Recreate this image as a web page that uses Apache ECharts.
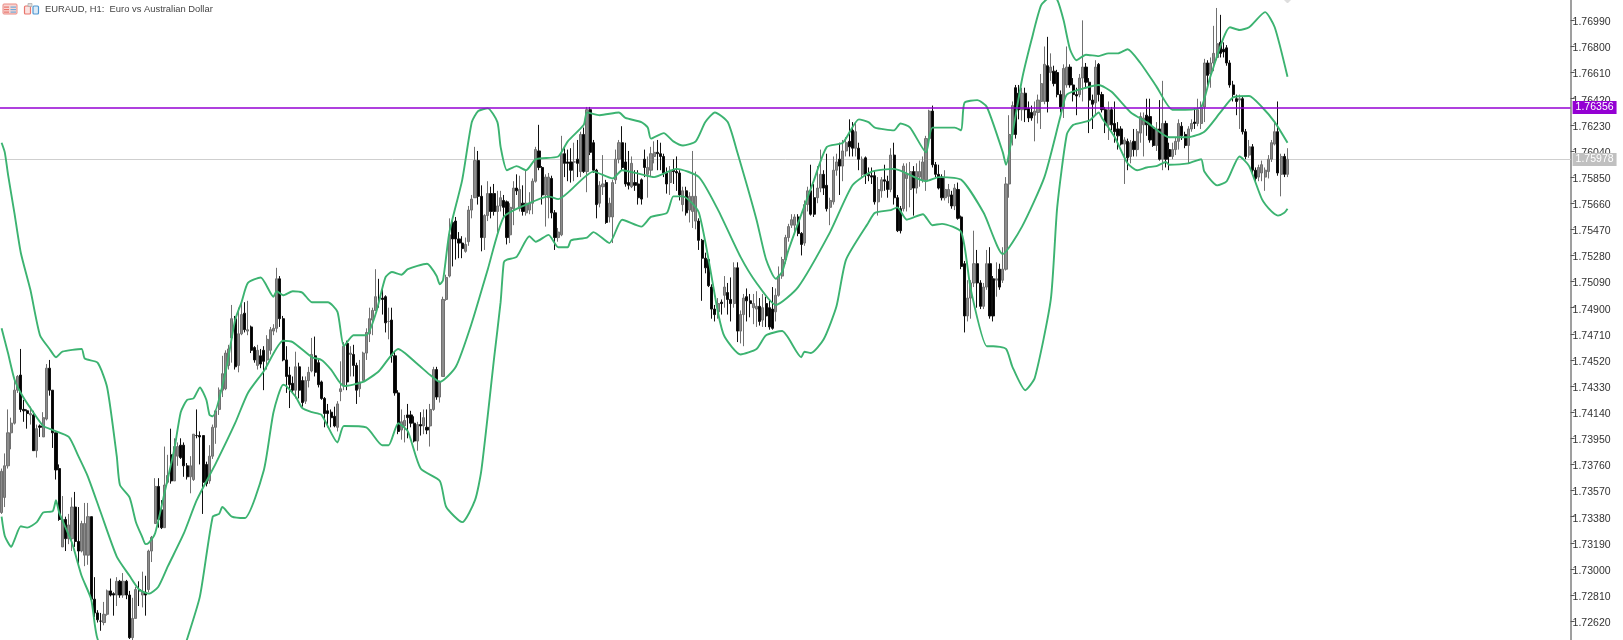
<!DOCTYPE html>
<html><head><meta charset="utf-8">
<style>html,body{margin:0;padding:0;background:#fff}#c{width:1623px;height:640px}</style>
<script src="https://cdn.jsdelivr.net/npm/echarts@6/dist/echarts.min.js"></script>
</head><body><div id="c"></div>
<script>
// EURAUD H1. All series values are in points of 0.0001 above 1.7000.
const BASE = 1.7, POINT = 0.0001;
const chartTitle = 'EURAUD, H1:  Euro vs Australian Dollar';
const tickLabels = [1.7699,1.7680,1.7661,1.7642,1.7623,1.7604,1.7585,1.7566,1.7547,1.7528,1.7509,1.7490,1.7471,1.7452,1.7433,1.7414,1.7395,1.7376,1.7357,1.7338,1.7319,1.7300,1.7281,1.7262];
const alertPrice = 1.76356;
const bidPrice = 1.75978;
const slotCount = 491;

const opens = [341,352,375,399,406,430,441,416,415,412,412,386,404,396,409,446,430,399,373,316,336,322,322,345,320,313,310,310,338,278,268,262,261,267,284,282,281,291,281,291,281,250,264,285,281,283,285,313,333,360,343,330,363,383,364,382,390,390,375,367,365,397,397,397,376,364,382,403,
416,430,431,448,468,482,448,471,486,473,476,461,448,455,459,452,459,473,475,511,482,452,441,435,430,447,437,422,437,444,455,450,436,424,415,414,411,403,429,433,464,456,456,448,431,437,457,471,481,488,497,497,498,480,481,455,428,401,404,412,412,406,393,405,404,
403,404,416,445,425,440,496,513,552,553,540,537,531,538,561,570,597,571,541,557,573,573,560,564,568,567,543,562,577,562,566,559,561,566,582,604,592,572,570,584,559,541,543,602,596,596,596,598,589,616,589,634,610,590,566,578,581,556,556,583,598,610,596,581,578,581,580,583,598,587,590,600,603,602,600,588,581,590,589,588,565,575,561,560,553,553,539,526,525,505,489,487,494,499,501,496,493,519,473,485,498,495,490,489,491,481,493,490,489,487,499,513,525,541,550,550,556,544,537,565,575,570,570,577,587,579,563,567,590,598,593,604,611,619,606,
606,587,599,587,586,586,567,575,583,582,576,601,570,562,562,584,576,589,577,585,583,583,613,633,594,587,585,570,571,572,564,576,556,522,484,497,508,522,508,491,505,522,511,510,518,510,518,580,616,650,
646,634,646,635,632,630,632,640,640,666,661,662,661,645,636,652,665,652,645,645,657,665,654,641,639,667,645,634,623,634,624,620,620,609,611,600,611,605,617,623,630,629,620,608,620,598,624,605,600,605,611,622,616,608,620,625,624,624,636,668,660,668,672,683,678,679,668,652,642,641,642,618,601,607,590,585,588,585,589,598,609,618,587,600,587];

const closes = [371,375,399,406,430,440,416,415,413,413,386,402,403,410,446,430,399,372,336,336,322,332,345,320,313,333,333,338,278,268,263,262,267,284,281,281,291,281,291,281,250,264,285,284,283,281,313,323,360,336,330,361,368,364,389,389,381,375,367,375,398,397,396,363,362,382,403,415,
430,442,457,460,482,447,471,485,474,474,459,452,459,449,451,467,474,475,511,482,452,440,434,430,447,430,421,437,443,456,443,434,424,413,413,410,404,420,431,462,436,457,448,430,436,457,472,482,488,498,497,496,479,480,455,428,400,407,408,410,406,393,405,404,410,
401,416,445,425,436,496,512,543,540,540,537,533,536,561,569,597,571,541,557,573,560,560,564,570,563,541,563,577,575,576,560,566,566,582,605,592,572,585,585,559,541,545,602,595,595,590,596,595,616,589,634,603,590,565,579,580,552,566,581,598,610,592,580,579,595,579,570,569,592,592,602,603,602,600,588,580,590,589,588,572,575,559,571,571,571,539,526,519,506,489,485,493,493,505,496,493,519,473,485,497,495,493,493,491,480,490,484,476,475,499,513,525,541,549,554,556,544,536,565,575,558,558,577,587,577,562,568,590,596,593,604,610,607,606,618,
598,598,587,586,585,567,576,583,582,576,601,570,546,546,593,587,589,577,589,589,596,613,633,594,587,577,570,576,576,564,577,555,520,484,497,508,522,508,491,505,522,484,484,511,505,518,580,616,637,616,
634,646,634,628,628,633,641,653,667,640,665,653,645,636,664,665,652,645,644,657,665,654,641,638,665,645,634,623,634,623,618,615,609,612,599,610,605,618,629,628,623,612,608,620,598,624,598,600,605,611,624,615,608,620,624,624,634,636,668,659,668,675,682,675,676,668,652,645,640,642,618,600,607,590,584,592,594,590,598,610,618,588,600,587,598];

const highs = [373,384,416,410,439,441,460,423,416,418,415,405,405,414,449,452,430,399,376,353,338,340,352,356,345,335,348,348,338,294,270,268,276,285,293,283,294,292,297,292,284,279,287,291,298,295,314,324,366,366,350,389,383,402,395,392,395,392,377,382,398,416,400,397,378,390,405,416,
432,455,459,463,492,484,490,494,494,495,477,462,463,460,462,470,476,478,519,513,484,462,447,440,458,450,440,440,447,468,469,452,437,425,420,416,418,422,451,465,466,462,463,450,452,458,475,490,490,518,511,505,499,490,490,458,430,416,412,420,415,411,407,414,416,
416,420,447,447,437,498,514,555,555,556,545,542,541,564,572,607,604,579,558,582,578,580,575,575,572,568,566,582,587,586,579,590,574,584,607,623,593,587,588,586,561,548,615,606,605,606,610,612,618,621,636,636,612,591,582,601,583,570,583,605,612,622,610,604,600,590,590,584,605,600,607,611,612,610,602,592,593,598,600,590,578,578,574,604,589,555,540,530,526,507,492,497,496,513,508,512,523,523,488,500,504,500,500,502,497,500,498,495,505,504,520,527,543,551,558,558,558,545,568,578,594,580,593,605,590,602,570,600,602,610,612,614,627,625,625,
610,600,600,592,592,590,585,585,594,586,606,610,572,564,595,595,596,593,595,597,600,615,634,637,596,594,587,590,580,575,580,581,557,524,510,510,546,532,510,508,532,534,513,523,522,534,585,630,640,652,
652,650,650,640,637,640,645,660,680,687,675,666,663,648,667,680,667,657,650,660,699,668,657,645,670,668,647,636,640,636,640,625,622,614,613,612,620,620,632,632,642,642,622,625,641,655,626,610,610,614,627,625,618,622,627,635,642,640,671,670,672,695,708,703,683,681,670,655,645,645,644,620,612,609,592,594,597,592,601,612,625,640,602,602,606];

const lows = [340,345,373,387,405,428,414,407,402,405,386,381,396,396,408,426,388,365,335,316,313,318,313,316,304,312,302,303,278,265,261,255,259,266,280,266,273,279,279,278,249,248,264,273,272,266,283,305,333,330,329,330,362,362,364,375,380,367,365,355,364,395,376,340,360,362,380,391,
412,425,430,445,450,445,443,470,472,470,457,450,445,446,430,445,456,470,472,476,451,428,417,428,424,424,418,420,432,443,440,432,423,403,403,403,403,400,422,430,430,440,440,420,425,437,452,465,470,488,490,485,472,467,450,426,398,394,392,395,403,392,386,397,398,
398,389,415,423,421,440,495,512,520,525,526,526,530,535,555,570,565,531,532,553,555,557,545,560,555,536,537,550,572,560,557,557,558,558,581,590,565,549,555,555,532,538,542,585,582,581,582,585,585,588,574,601,588,555,563,572,551,552,537,580,595,590,578,576,577,575,565,565,585,570,585,595,590,590,585,573,572,580,575,568,560,557,552,548,547,532,495,515,505,482,480,482,485,490,485,480,490,465,464,462,480,483,478,476,477,476,476,474,474,480,498,511,522,538,548,545,542,528,535,560,557,556,566,574,572,560,550,565,586,572,582,600,600,600,600,
590,585,580,582,580,565,557,570,575,570,574,565,545,544,560,560,563,557,573,578,581,575,612,592,585,576,568,568,566,562,561,554,518,472,480,482,505,490,489,489,503,482,480,498,503,508,517,570,608,613,
627,626,625,625,626,611,624,620,638,632,655,651,643,632,628,650,650,640,630,643,640,650,617,620,630,640,632,617,612,619,610,605,608,580,590,595,600,600,610,600,615,610,607,604,597,590,592,590,598,601,605,612,606,595,618,620,622,620,625,650,650,662,670,672,672,666,650,640,630,620,616,598,599,588,581,582,582,575,584,596,608,586,571,585,585];

// Bollinger bands: [bar number, points] at each bend that can be read.
const upperBand = [[0,610],[1,603],[2,587],[4,559],[6,530],[9,503],[12,470],[15,460],[17,454],[19,458],[25,460],[26,453],[30,450],[33,432],[36,382],[37,361],[40,352],[42,334],[44,323],[45,318],[46,319],[48,326],[51,356],[54,387],[56,414],[58,423],[60,424],[62,432],[64,423],[65,412],[66,411],[70,443],[73,481],[75,494],[77,508],[81,512],[85,498],[86,502],[88,499],[91,502],[94,501],[97,494],[102,494],[105,487],[107,462],[110,470],[114,470],[117,486],[120,512],[122,516],[125,514],[127,518],[133,522],[134,520],[136,513],[137,507],[138,510],[140,545],[144,583],[147,625],[149,633],[152,635],[155,625],[156,607],[158,590],[161,593],[164,590],[167,598],[174,600],[177,611],[182,623],[183,632],[187,630],[193,632],[195,628],[200,625],[202,621],[203,613],[207,617],[210,611],[213,608],[217,611],[220,625],[223,632],[227,625],[230,603],[236,554],[239,525],[242,511],[244,516],[246,532],[254,583],[258,607],[263,610],[268,627],[271,625],[273,621],[279,619],[281,624],[284,621],[289,603],[291,621],[298,621],[300,619],[301,639],[305,641],[308,636],[313,603],[314,594],[315,603],[319,656],[322,685],[325,710],[328,716],[330,714],[332,699],[334,678],[336,670],[339,674],[343,673],[346,675],[349,675],[352,678],[356,668],[361,651],[366,634],[370,634],[375,636],[378,659],[384,694],[387,692],[390,694],[395,705],[398,694],[402,658]];

const middleBand = [[0,475],[2,457],[4,438],[6,428],[9,417],[13,404],[16,401],[21,396],[24,382],[27,367],[31,341],[36,309],[40,295],[43,285],[46,282],[49,287],[52,302],[57,326],[61,350],[67,377],[73,406],[77,428],[82,444],[88,466],[91,465],[97,454],[100,452],[103,445],[107,433],[113,436],[118,444],[124,460],[130,449],[134,441],[137,436],[142,447],[147,479],[152,518],[157,556],[164,565],[171,571],[174,569],[185,589],[191,584],[194,590],[200,587],[204,585],[211,591],[218,585],[224,561],[231,527],[236,508],[242,492],[249,505],[259,545],[266,579],[272,589],[279,591],[289,582],[293,585],[300,583],[307,559],[313,529],[319,549],[326,585],[331,629],[333,645],[339,650],[343,652],[347,647],[353,632],[358,625],[365,614],[371,614],[376,618],[381,632],[385,643],[390,644],[394,636],[398,625],[402,610]];

const lowerBand = [[0,338],[1,324],[3,316],[4,321],[6,331],[8,330],[11,334],[13,341],[16,342],[17,350],[18,341],[22,319],[25,295],[28,278],[30,249],[37,220],[47,205],[54,220],[58,249],[62,280],[66,338],[68,340],[69,345],[72,338],[76,337],[82,372],[85,414],[88,434],[89,433],[92,425],[94,417],[97,414],[100,412],[105,392],[107,404],[114,403],[119,390],[121,390],[124,406],[127,400],[131,373],[137,364],[139,345],[144,334],[148,350],[150,372],[154,454],[156,494],[157,523],[158,525],[161,527],[165,542],[167,538],[171,543],[174,534],[177,534],[178,539],[183,541],[185,545],[190,537],[194,554],[200,549],[203,556],[208,559],[210,571],[213,571],[218,559],[224,486],[226,469],[231,456],[236,460],[239,470],[244,473],[250,454],[251,458],[253,457],[257,467],[261,491],[264,525],[271,552],[273,559],[278,561],[280,563],[283,554],[288,558],[291,550],[294,551],[300,545],[303,503],[308,462],[310,462],[314,460],[316,447],[320,430],[323,439],[328,496],[330,563],[333,616],[335,623],[340,626],[343,632],[344,628],[348,614],[352,595],[355,590],[358,592],[361,593],[364,596],[365,594],[371,595],[375,598],[376,589],[380,579],[383,582],[387,600],[390,593],[394,569],[397,560],[399,557],[401,559],[402,562]];

const toPrice = p => BASE + p * POINT;
const candles = opens.map((o, i) => [toPrice(o), toPrice(closes[i]), toPrice(lows[i]), toPrice(highs[i])]);
const bandData = b => b.map(([bar, p]) => [bar, toPrice(p)]);
const slots = Array.from({length: slotCount}, (_, i) => i);
const FONT = '"Liberation Sans", Arial, sans-serif';

const priceLine = (value, color, width, labelBg, z) => ({
  silent: true, symbol: 'none', z, animation: false, precision: 5,
  lineStyle: {color, width, type: 'solid'},
  label: {position: 'end', distance: 2, color: '#fff', backgroundColor: labelBg, padding: [2, 3, 0, 3],
    fontFamily: FONT, fontSize: 10.5, formatter: () => value.toFixed(5)},
  data: [{yAxis: value}]
});
const bandSeries = (name, data, markLine) => ({
  name, type: 'line', data: bandData(data), showSymbol: false, smooth: 0.2, z: 4, silent: true,
  lineStyle: {color: '#3CB371', width: 1.9}, clip: true, markLine
});

const chart = echarts.init(document.getElementById('c'), null, {renderer: 'canvas'});
chart.setOption({
  animation: false,
  backgroundColor: '#fff',
  grid: {left: -0.6, top: 0, width: 1571.2, height: 640, containLabel: false},
  xAxis: {type: 'category', data: slots, show: false, boundaryGap: true},
  yAxis: {
    type: 'value', position: 'right', min: 1.72483, max: 1.77138, scale: true,
    splitLine: {show: false},
    axisLine: {show: true, onZero: false, lineStyle: {color: '#7f7f7f', width: 1.5}},
    axisTick: {show: true, inside: false, length: 4, customValues: tickLabels, lineStyle: {color: '#555'}},
    axisLabel: {show: true, margin: 2, customValues: tickLabels, color: '#333', fontFamily: FONT, fontSize: 10.5,
      verticalAlign: 'top', lineHeight: 4, formatter: v => v.toFixed(5)}
  },
  series: [
    {
      name: 'EURAUD', type: 'candlestick', data: candles, barWidth: 2.6, z: 2, silent: true,
      itemStyle: {color: '#8c8c8c', color0: '#000', borderColor: '#707070', borderColor0: '#111', borderWidth: 1},
      markLine: priceLine(bidPrice, '#cfcfcf', 1, '#c0c0c0', 1)
    },
    bandSeries('Upper', upperBand),
    bandSeries('Middle', middleBand),
    bandSeries('Lower', lowerBand, priceLine(alertPrice, '#9400D3', 1.6, '#9400D3', 6))
  ],
  graphic: [
    {type: 'text', left: 45, top: 4.5, silent: true, style: {text: chartTitle, fill: '#444', font: '9.4px ' + FONT}},
    {type: 'rect', shape: {x: 3, y: 4, width: 14, height: 10, r: 1}, style: {fill: '#f8d5d2', stroke: '#ea8a83', lineWidth: 1}, silent: true},
    {type: 'rect', shape: {x: 4, y: 6.5, width: 5, height: 1.2}, style: {fill: '#e9756c'}, silent: true},
    {type: 'rect', shape: {x: 4, y: 9, width: 5, height: 1.2}, style: {fill: '#e9756c'}, silent: true},
    {type: 'rect', shape: {x: 4, y: 11.5, width: 5, height: 1.2}, style: {fill: '#e9756c'}, silent: true},
    {type: 'rect', shape: {x: 10.5, y: 6.5, width: 5.5, height: 1.2}, style: {fill: '#6fa9d8'}, silent: true},
    {type: 'rect', shape: {x: 10.5, y: 9, width: 5.5, height: 1.2}, style: {fill: '#6fa9d8'}, silent: true},
    {type: 'rect', shape: {x: 10.5, y: 11.5, width: 5.5, height: 1.2}, style: {fill: '#6fa9d8'}, silent: true},
    {type: 'rect', shape: {x: 24.5, y: 6, width: 6, height: 8, r: 1}, style: {fill: '#fbe3e1', stroke: '#e9756c', lineWidth: 1.2}, silent: true},
    {type: 'rect', shape: {x: 28, y: 3.5, width: 4, height: 3}, style: {fill: '#dcdcdc', stroke: '#aaaaaa', lineWidth: 0.7}, silent: true},
    {type: 'rect', shape: {x: 33, y: 6, width: 5.5, height: 8, r: 1}, style: {fill: '#dcebf7', stroke: '#4f97d1', lineWidth: 1.2}, silent: true},
    {type: 'polygon', shape: {points: [[1284, 0], [1291, 0], [1288, 3], [1287, 3]]}, style: {fill: '#dedede'}, silent: true}
  ]
});
</script></body></html>
